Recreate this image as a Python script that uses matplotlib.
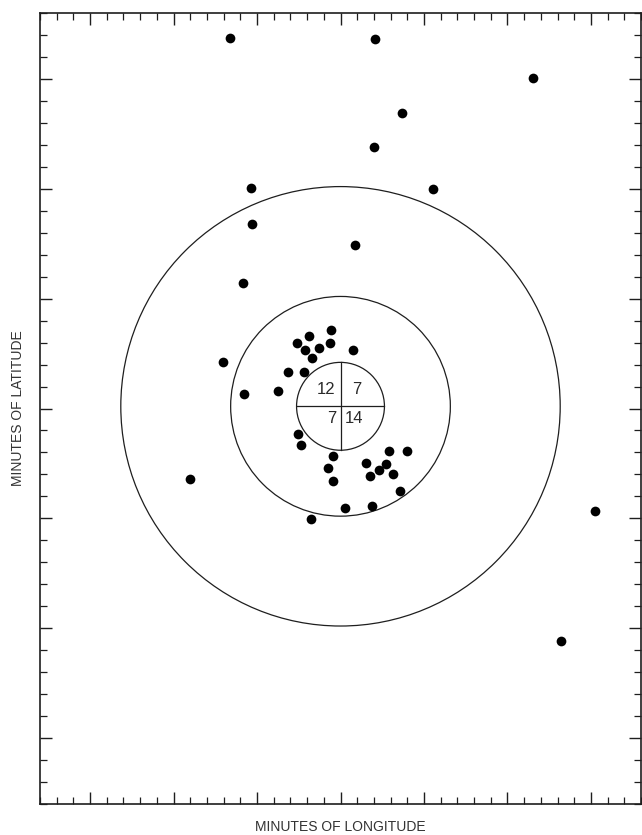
import matplotlib
matplotlib.use("Agg")
import matplotlib.pyplot as plt
from matplotlib.patches import Ellipse
from matplotlib.ticker import MultipleLocator

plt.rcParams['font.family'] = ['Liberation Sans', 'DejaVu Sans']

# Positions in minutes of longitude (x) and minutes of latitude (y)
lon = [-6.59, 2.04, 11.56, 3.71, 1.98, -5.39, 5.57, -5.33, 0.84, -5.87,
       -0.54, -1.86, -2.63, -0.62, -2.14, -1.30, -1.72, 0.76, -7.02, -3.13,
       -2.20, -3.77, -5.77, -2.53, -2.34, -0.46, -0.72, -0.42, 1.51, 2.93,
       3.97, 2.32, 2.75, 1.78, 3.16, 3.55, 0.24, 1.86, -1.74, -9.04,
       15.27, 13.23]
lat = [16.85, 16.80, 15.03, 13.44, 11.90, 10.03, 9.99, 8.40, 7.44, 5.71,
       3.55, 3.29, 3.00, 2.97, 2.64, 2.75, 2.29, 2.64, 2.11, 1.68,
       1.65, 0.80, 0.67, -1.15, -1.68, -2.15, -2.71, -3.29, -2.48, -1.92,
       -1.92, -2.79, -2.53, -3.05, -2.97, -3.74, -4.55, -4.42, -5.01, -3.20,
       -4.65, -10.60]

# Range rings (nautical miles) around the target point
ring_radii = [2, 5, 10]
center = (0.0, 0.1)
lon_per_nm = 1.316  # minutes of longitude per nautical mile

# Counts in each quadrant of the inner ring
quad_counts = ["12", "7", "7", "14"]
quad_x = [-0.85, 1.0, -0.55, 0.8]
quad_y = [0.75, 0.75, -0.55, -0.55]

ink = "#1e1e1e"

fig = plt.figure(figsize=(6.42, 8.35), dpi=100)
ax = fig.add_axes([40 / 642, 1 - 804 / 835, 601 / 642, 791 / 835])
ax.set_xlim(-18, 18)
ax.set_ylim(-18, 18)

for r in ring_radii:
    ax.add_patch(Ellipse(center, 2 * r * lon_per_nm, 2 * r, fill=False,
                         edgecolor=ink, linewidth=0.9))

r0 = ring_radii[0]
ax.plot([center[0] - r0 * lon_per_nm, center[0] + r0 * lon_per_nm],
        [center[1], center[1]], color=ink, linewidth=0.9)
ax.plot([center[0], center[0]], [center[1] - r0, center[1] + r0],
        color=ink, linewidth=0.9)

for txt, tx, ty in zip(quad_counts, quad_x, quad_y):
    ax.text(center[0] + tx, center[1] + ty, txt, ha='center', va='center',
            fontsize=12, color="#2a2a2a")

ax.plot(lon, lat, linestyle='none', marker='o', markersize=7,
        color='black', markeredgewidth=0)

ax.xaxis.set_major_locator(MultipleLocator(5))
ax.xaxis.set_minor_locator(MultipleLocator(1))
ax.yaxis.set_major_locator(MultipleLocator(5))
ax.yaxis.set_minor_locator(MultipleLocator(1))
ax.tick_params(which='both', direction='in', top=True, right=True,
               labelbottom=False, labelleft=False, color=ink)
ax.tick_params(which='major', length=8.5, width=1.0)
ax.tick_params(which='minor', length=5, width=0.9)
for s in ax.spines.values():
    s.set_linewidth(1.2)
    s.set_color(ink)

fig.text(340 / 642, 1 - 827 / 835, "MINUTES OF LONGITUDE", ha='center',
         va='center', fontsize=10, color="#333333")
fig.text(18 / 642, 1 - 408 / 835, "MINUTES OF LATITUDE", ha='center',
         va='center', rotation=90, fontsize=10, color="#333333")

fig.savefig("out.png", dpi=100, facecolor='white')
